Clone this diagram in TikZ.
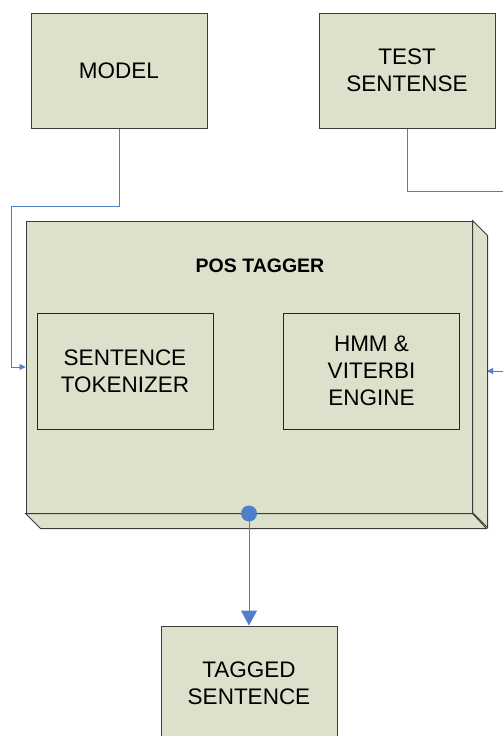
\documentclass[tikz,border=0pt]{standalone}
\usepackage{fontspec}
\setmainfont{Liberation Sans}
\usetikzlibrary{positioning,arrows.meta}

\definecolor{boxfill}{HTML}{DDE0CB}
\definecolor{boxline}{HTML}{3C3C3C}
\definecolor{linkblue}{HTML}{4F7FC8}

\tikzset{
  block/.style={draw=boxline, fill=boxfill, line width=1pt, minimum width=176pt,
    minimum height=115pt, align=center, inner sep=0pt,
    font=\fontsize{22.5}{27}\selectfont},
  inner block/.style={block, draw=black!85, line width=0.8pt, minimum height=116pt},
  link/.style={draw=linkblue, line width=0.8pt},
}

\begin{document}
\begin{tikzpicture}[x=1pt, y=-1pt]

	\clip (0,0) rectangle (503,736);

	% inputs
	\node [block] (model) at (119,70.5) {MODEL};
	\node [block] (test) at (407,70.5) {TEST\\SENTENSE};

	% tagger box, front face plus the two side faces
	\node [draw=boxline, fill=boxfill, line width=1pt, minimum width=446pt, minimum height=292pt] (tagger) at (249,367) {};
	\draw [draw=boxline, fill=boxfill, line width=1pt] (tagger.north east) -- ++(15,15) -- ++(0,292) -- ++(-15,-15) -- cycle;
	\draw [draw=boxline, fill=boxfill, line width=1pt] (tagger.south west) -- ++(15,15) -- ++(446,0) -- (tagger.south east) -- cycle;

	\node [font=\fontsize{19.5}{23}\selectfont\bfseries] (title) at (260,266) {POS TAGGER};

	\node [inner block] (tokenizer) at (125,371) {SENTENCE\\TOKENIZER};
	\node [inner block] (engine) at (371.5,371) {HMM \&\\VITERBI\\ENGINE};

	% output
	\node [block] (tagged) at (249,683.5) {TAGGED\\SENTENCE};

	\coordinate (modelbend) at (11,206);
	\coordinate (testbend) at (520,191);
	\coordinate (sidein) at (487,371);

	\draw [link, -{Triangle[length=6pt,width=6pt]}] (model.south) |- (modelbend) |- (tagger.west);
	\draw [link, -{Triangle[length=6pt,width=6pt]}] (test.south) |- (testbend) |- (sidein);

	\draw [link, line width=1pt, -{Triangle[length=15pt,width=16pt]}] (tagger.south) -- (tagged.north);
	\fill [linkblue] (tagger.south) circle (8);

\end{tikzpicture}
\end{document}
